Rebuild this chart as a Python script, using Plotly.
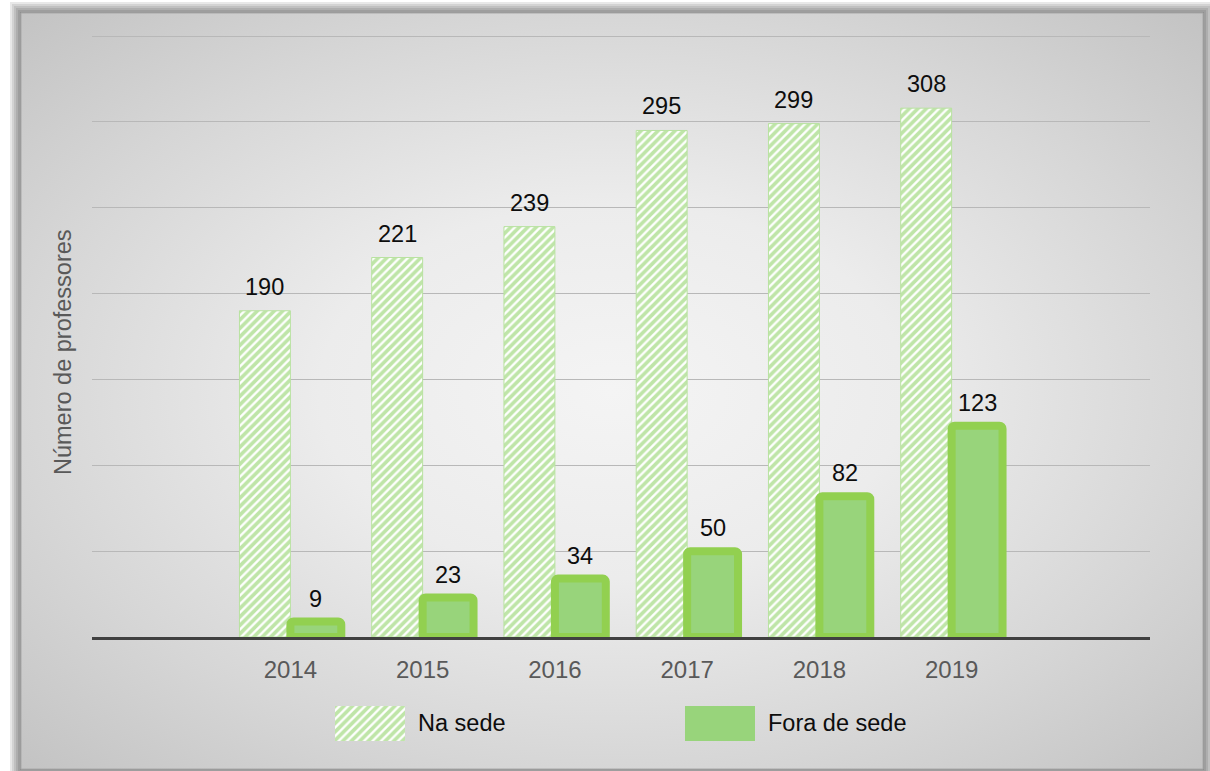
import plotly.graph_objects as go

# ---- data ----
years = [2014, 2015, 2016, 2017, 2018, 2019]
year_labels = ["2014", "2015", "2016", "2017", "2018", "2019"]
na_sede = [190, 221, 239, 295, 299, 308]
fora_sede = [9, 23, 34, 50, 82, 123]
series_names = ["Na sede", "Fora de sede"]
y_title = "Número de professores"

W, H = 1210, 771
FONT = "Liberation Sans, Arial, sans-serif"
HATCH_GREEN = "#7fcc52"
FILL_GREEN = "#98d47b"
EDGE_GREEN = "#92d050"

# panel (page pixels)
PX0, PX1, PY0, PY1 = 21, 1203, 13, 769
# plot area (page pixels)
AX0, AX1, AY0, AY1 = 92, 1150, 36, 637
# legend strip (page pixels)
LX0, LX1, LY0, LY1 = 320, 780, 696, 750

BAR_W = 0.385
HATCH = dict(shape="/", fgcolor=HATCH_GREEN, bgcolor="white", size=6, solidity=0.62)

fig = go.Figure()

# ---- background panel with radial gradient (subplot x/y in page pixels) ----
cx, cy = (PX0 + PX1) / 2, (PY0 + PY1) / 2
hw, hh = (PX1 - PX0) / 2 * 1.414, (PY1 - PY0) / 2 * 1.414
fig.add_trace(go.Scatter(
    x=[cx - hw, cx + hw, cx + hw, cx - hw, cx - hw],
    y=[cy - hh, cy - hh, cy + hh, cy + hh, cy - hh],
    mode="lines", line=dict(width=0), fill="toself",
    fillgradient=dict(type="radial",
                      colorscale=[[0, "#f4f4f4"], [0.35, "#ececec"], [0.71, "#d6d6d6"], [1, "#c3c3c3"]]),
    hoverinfo="skip", showlegend=False, xaxis="x", yaxis="y"))

# ---- main bars ----
fig.add_trace(go.Bar(
    name=series_names[0], x=years, y=na_sede,
    marker=dict(color="white", line=dict(color="#b8e2a0", width=1), pattern=HATCH),
    xaxis="x2", yaxis="y2", showlegend=False))
fig.add_trace(go.Bar(
    name=series_names[1], x=years, y=fora_sede,
    marker=dict(color=FILL_GREEN, line=dict(color=EDGE_GREEN, width=8), cornerradius=3),
    xaxis="x2", yaxis="y2", showlegend=False))

# ---- legend swatches (subplot x3/y3 in page pixels) ----
fig.add_trace(go.Bar(
    x=[370], y=[35], base=[706], width=[70], offset=-35,
    marker=dict(color="white", line=dict(width=0), pattern=HATCH),
    hoverinfo="skip", showlegend=False, xaxis="x3", yaxis="y3"))
fig.add_trace(go.Bar(
    x=[720], y=[35], base=[706], width=[70], offset=-35,
    marker=dict(color=FILL_GREEN, line=dict(width=0)),
    hoverinfo="skip", showlegend=False, xaxis="x3", yaxis="y3"))

annotations = []
for yr, v in zip(years, na_sede):
    annotations.append(dict(x=yr - BAR_W / 2, y=v, xref="x2", yref="y2", text=str(v),
                            showarrow=False, yanchor="bottom", yshift=9,
                            font=dict(family=FONT, size=23.5, color="#0d0d0d")))
for yr, v in zip(years, fora_sede):
    annotations.append(dict(x=yr + BAR_W / 2, y=v, xref="x2", yref="y2", text=str(v),
                            showarrow=False, yanchor="bottom", yshift=8,
                            font=dict(family=FONT, size=23.5, color="#0d0d0d")))

# y-axis title
annotations.append(dict(x=63, y=352, xref="x", yref="y", text=y_title, textangle=-90,
                        showarrow=False, font=dict(family=FONT, size=23.5, color="#595959")))
# legend texts
annotations.append(dict(x=416, y=723, xref="x", yref="y", text=series_names[0], xanchor="left",
                        showarrow=False, font=dict(family=FONT, size=23.5, color="#0d0d0d")))
annotations.append(dict(x=766, y=723, xref="x", yref="y", text=series_names[1], xanchor="left",
                        showarrow=False, font=dict(family=FONT, size=23.5, color="#0d0d0d")))

# ---- drop shadow around panel ----
shapes = []
for d in [11, 9, 7, 5, 3, 1]:
    shapes.append(dict(type="rect", xref="paper", yref="paper", layer="below",
                       x0=(PX0 - d) / W, x1=(PX1 + d) / W,
                       y0=1 - (PY1 + d) / H, y1=1 - (PY0 - d) / H,
                       fillcolor="rgba(0,0,0,0.09)", line=dict(width=0)))
shapes.append(dict(type="rect", xref="paper", yref="paper", layer="above",
                   x0=PX0 / W, x1=PX1 / W, y0=1 - PY1 / H, y1=1 - PY0 / H,
                   fillcolor="rgba(0,0,0,0)", line=dict(color="#a8a8a8", width=1)))

fig.update_layout(
    width=W, height=H,
    margin=dict(l=0, r=0, t=0, b=0),
    paper_bgcolor="white", plot_bgcolor="rgba(0,0,0,0)",
    barmode="group", bargap=1 - 2 * BAR_W, bargroupgap=0,
    showlegend=False,
    font=dict(family=FONT),
    xaxis=dict(domain=[PX0 / W, PX1 / W], range=[PX0, PX1], visible=False, fixedrange=True),
    yaxis=dict(domain=[1 - PY1 / H, 1 - PY0 / H], range=[PY1, PY0], visible=False, fixedrange=True),
    xaxis3=dict(domain=[LX0 / W, LX1 / W], range=[LX0, LX1], anchor="y3", visible=False, fixedrange=True),
    yaxis3=dict(domain=[1 - LY1 / H, 1 - LY0 / H], range=[LY1, LY0], anchor="x3", visible=False, fixedrange=True),
    xaxis2=dict(domain=[AX0 / W, AX1 / W], anchor="y2", range=[2012.5, 2020.5],
                tickvals=years, ticktext=year_labels, showgrid=False, zeroline=False,
                showline=True, linecolor="#404040", linewidth=3, ticks="",
                tickfont=dict(family=FONT, size=24, color="#595959"), ticklabelstandoff=9),
    yaxis2=dict(domain=[1 - AY1 / H, 1 - (AY0 - 1) / H], anchor="x2", range=[0, 350.6], dtick=50,
                showticklabels=False, showgrid=True, gridcolor="#b8b8b8", gridwidth=1.3,
                zeroline=False, showline=False, ticks=""),
    annotations=annotations,
    shapes=shapes,
)

fig.write_html("out.html", config={"displayModeBar": False},
               post_script="document.body.style.margin='0';")
